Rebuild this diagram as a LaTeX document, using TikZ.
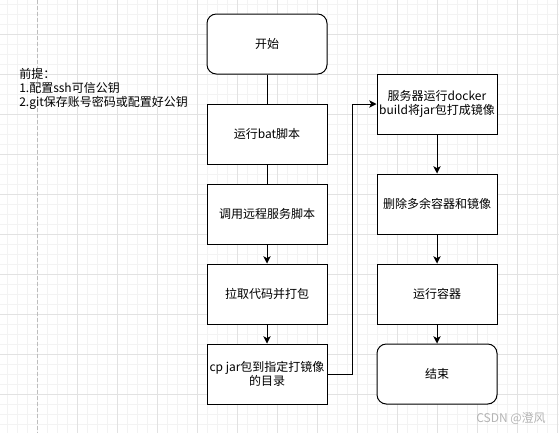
\documentclass[tikz,border=0pt]{standalone}
\usepackage{fontspec}
\setmainfont{Noto Sans CJK SC}
\usetikzlibrary{arrows.meta}
\definecolor{minorgrid}{HTML}{F3F3F3}
\definecolor{majorgrid}{HTML}{E2E2E2}
\definecolor{pageline}{HTML}{BDBDBD}
\definecolor{wmark}{HTML}{B4B4B4}
\tikzset{
  stepbox/.style={draw=black, line width=0.75pt, fill=white, minimum width=90pt, minimum height=45pt, inner sep=1pt, align=center, font=\fontsize{9pt}{11pt}\selectfont},
  termbox/.style={stepbox, rounded corners=7pt},
  plainline/.style={draw=black, line width=0.75pt},
  arrowline/.style={plainline, -{Stealth[length=5.5pt, width=5.5pt, inset=1.5pt]}},
}
\begin{document}
\begin{tikzpicture}[x=0.75pt, y=-0.75pt]
\useasboundingbox (0,0) rectangle (559,433);
\fill[white] (0,0) rectangle (559,433);
% grid
\foreach \gx in {7,17,...,557} \draw[minorgrid, line width=0.75pt] (\gx,0) -- (\gx,433);
\foreach \gy in {4,14,...,434} \draw[minorgrid, line width=0.75pt] (0,\gy) -- (559,\gy);
\foreach \gx in {77,117,...,557} \draw[majorgrid, line width=0.75pt] (\gx,0) -- (\gx,433);
\foreach \gy in {34,74,...,434} \draw[majorgrid, line width=0.75pt] (0,\gy) -- (559,\gy);
\draw[pageline, line width=0.75pt, dash pattern=on 3pt off 1.5pt] (37,0) -- (37,433);
% note
\node[anchor=north west, align=left, inner sep=0pt, font=\fontsize{9pt}{10.5pt}\selectfont] (note) at (19,68) {前提：\\1.配置ssh可信公钥\\2.git保存账号密码或配置好公钥};
% left column
\node[termbox] (start) at (267,44) {开始};
\node[stepbox] (bat) at (267,134) {运行bat脚本};
\node[stepbox] (remote) at (267,214) {调用远程服务脚本};
\node[stepbox] (pull) at (267,294) {拉取代码并打包};
\node[stepbox] (cp) at (267,374) {cp jar包到指定打镜像\\的目录};
% right column
\node[stepbox] (docker) at (437,104) {服务器运行docker\\build将jar包打成镜像};
\node[stepbox] (clean) at (437,204) {删除多余容器和镜像};
\node[stepbox] (run) at (437,294) {运行容器};
\node[termbox] (end) at (437,374) {结束};
% connectors
\draw[plainline] (start) -- (bat);
\draw[plainline] (bat) -- (remote);
\draw[arrowline] (remote) -- (pull);
\draw[arrowline] (pull) -- (cp);
\draw[arrowline] (cp.east) -- ++(25,0) |- (docker.west);
\draw[arrowline] (docker) -- (clean);
\draw[arrowline] (clean) -- (run);
\draw[arrowline] (run) -- (end);
% watermark
\node[anchor=west, inner sep=0pt, text=wmark, font=\fontsize{9pt}{10pt}\selectfont] (wm) at (476,418) {CSDN @澄风};
\end{tikzpicture}
\end{document}
